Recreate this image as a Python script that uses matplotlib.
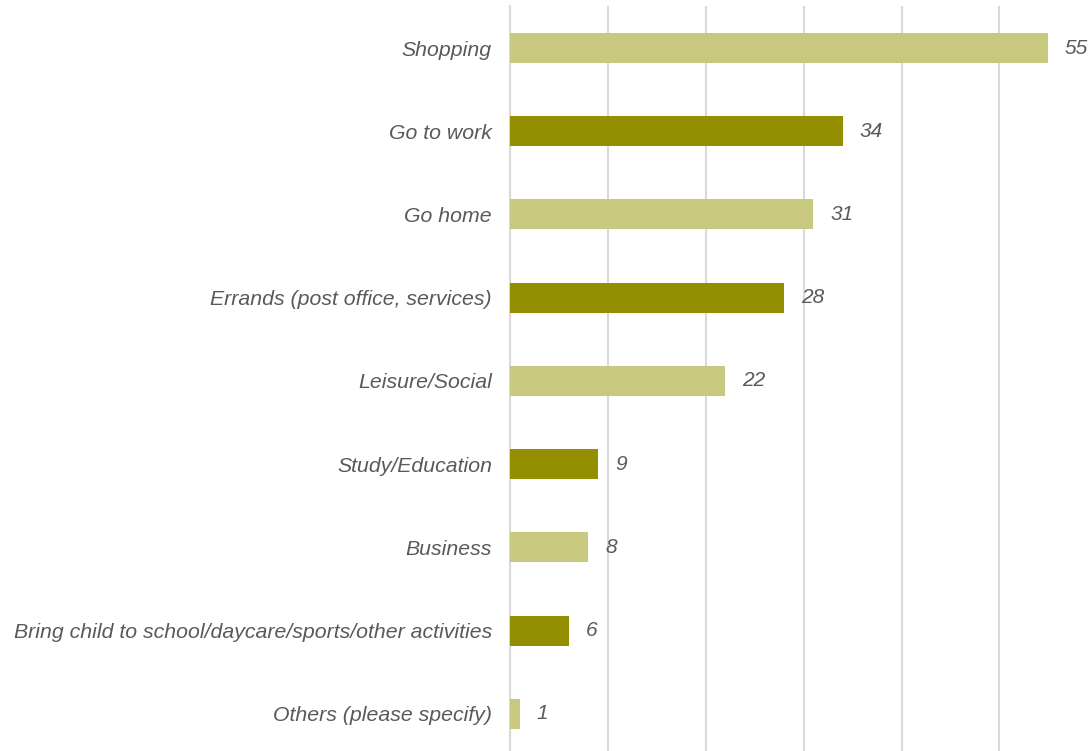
import matplotlib.pyplot as plt

categories = ['Shopping', 'Go to work', 'Go home', 'Errands (post office, services)',
              'Leisure/Social', 'Study/Education', 'Business',
              'Bring child to school/daycare/sports/other activities',
              'Others (please specify)']
values = [55, 34, 31, 28, 22, 9, 8, 6, 1]

light = '#C8C87E'
dark = '#948F00'
txt = '#595959'

plt.rcParams['font.family'] = ['Liberation Sans', 'DejaVu Sans']

fig = plt.figure(figsize=(10.88, 7.51), dpi=100)
ax = fig.add_axes([0.4688, -0.006, 0.5397, 0.9975])

ypos = list(range(len(categories)))
colors = [light if i % 2 == 0 else dark for i in ypos]
ax.barh(ypos, values, height=0.36, color=colors, zorder=3)

for y, v in zip(ypos, values):
    ax.annotate(str(v), (v, y), xytext=(12, 0), textcoords='offset points',
                va='center', ha='left', fontsize=15, style='italic', color=txt)

ax.set_xlim(0, 60)
ax.set_ylim(len(categories) - 0.5, -0.5)
ax.set_xticks([0, 10, 20, 30, 40, 50])
ax.set_yticks(ypos)
ax.set_yticklabels(categories, fontsize=15.3, style='italic', color=txt)
ax.tick_params(axis='y', length=0, pad=13)
ax.tick_params(axis='x', length=0, labelbottom=False)
ax.grid(axis='x', color='#D9D9D9', linewidth=1.5, zorder=0)
for s in ax.spines.values():
    s.set_visible(False)
ax.spines['left'].set_visible(True)
ax.spines['left'].set_color('#D9D9D9')
ax.spines['left'].set_linewidth(1.5)

fig.savefig('out.png', dpi=100)
